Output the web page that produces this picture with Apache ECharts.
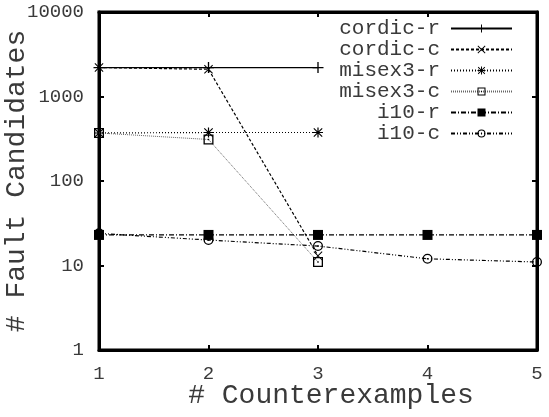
<!DOCTYPE html>
<html><head><meta charset="utf-8">
<script src="https://cdn.jsdelivr.net/npm/echarts@6/dist/echarts.min.js"></script>
<style>html,body{margin:0;padding:0;background:#fff}#c{width:549px;height:417px}</style>
</head><body><div id="c"></div>
<script>
const xValues = [1, 2, 3, 4, 5];
const yTicks = [1, 10, 100, 1000, 10000];
const seriesNames = ['cordic-r', 'cordic-c', 'misex3-r', 'misex3-c', 'i10-r', 'i10-c'];
const cordicR = [2200, 2200, 2200];
const cordicC = [2200, 2100, 13];
const misex3R = [370, 375, 375];
const misex3C = [370, 310, 11];
const i10R = [23, 23, 23, 23, 23];
const i10C = [24, 20, 17, 12, 11];
const values = [cordicR, cordicC, misex3R, misex3C, i10R, i10C];

const FONT = '"Liberation Mono", "DejaVu Sans Mono", monospace';
const TXT = '#3a3a3a';
const symPlus = 'path://M4.4,0H5.6V10H4.4ZM0,4.4H10V5.6H0Z';
const symCross = 'path://M0.8,0L10,9.2L9.2,10L0,0.8ZM9.2,0L10,0.8L0.8,10L0,9.2Z';
const symStar = 'path://M4.4,0H5.6V10H4.4ZM0,4.4H10V5.6H0ZM1.2,0.4L9.6,8.8L8.8,9.6L0.4,1.2ZM8.8,0.4L9.6,1.2L1.2,9.6L0.4,8.8Z';
const symBox = 'path://M0,0H10V10H0ZM1.3,1.3V8.7H8.7V1.3ZM4.3,4.3H5.7V5.7H4.3Z';
const symCircle = 'path://M5,0A5,5 0 1,1 5,10A5,5 0 1,1 5,0ZM5,1.3A3.7,3.7 0 1,0 5,8.7A3.7,3.7 0 1,0 5,1.3ZM4.3,4.3H5.7V5.7H4.3Z';

const styles = [
  {sym: symPlus, size: 11, dash: 'solid', color: '#000', w: 1.2},
  {sym: symCross, size: 9, dash: [3, 2], color: '#000', w: 1.2},
  {sym: symStar, size: 10, dash: [1, 2], color: '#000', w: 1.2},
  {sym: symBox, size: 10, dash: [1, 1], color: '#666', w: 1},
  {sym: 'rect', size: 10, dash: [5, 2, 1, 2], color: '#000', w: 1.2},
  {sym: symCircle, size: 10, dash: [4, 2, 1, 2, 1, 2], color: '#000', w: 1.2}
];

const series = seriesNames.map((name, i) => ({
  name: name,
  type: 'line',
  data: values[i].map((v, j) => [xValues[j], v]),
  symbol: styles[i].sym,
  symbolSize: styles[i].size,
  showAllSymbol: true,
  z: 2 + i,
  lineStyle: {color: styles[i].color, width: styles[i].w, type: styles[i].dash},
  itemStyle: {color: '#000'},
  animation: false
}));

const chart = echarts.init(document.getElementById('c'), null, {renderer: 'canvas'});
chart.setOption({
  animation: false,
  backgroundColor: '#fff',
  grid: {left: 99, right: 12, top: 12, bottom: 67, outerBoundsMode: 'none', containLabel: false,
    show: true, borderColor: '#000', borderWidth: 3, backgroundColor: 'transparent'},
  legend: {
    orient: 'vertical',
    right: 31,
    top: 13,
    align: 'right',
    itemWidth: 61,
    itemHeight: 10,
    itemGap: 0,
    data: seriesNames,
    textStyle: {fontFamily: FONT, fontSize: 21, lineHeight: 21, color: TXT, width: 110, align: 'right', padding: [0, 6, 0, 0]}
  },
  xAxis: [{
    type: 'value', min: 1, max: 5, interval: 1,
    name: '# Counterexamples', nameLocation: 'middle', nameGap: 32, nameMoveOverlap: false,
    nameTextStyle: {fontFamily: FONT, fontSize: 28, color: TXT, padding: [0, 0, 0, 26]},
    axisLine: {show: true, lineStyle: {color: '#000', width: 3}},
    axisTick: {show: true, inside: true, length: 5, lineStyle: {color: '#000', width: 2}},
    axisLabel: {fontFamily: FONT, fontSize: 19, color: TXT, margin: 14},
    splitLine: {show: false}
  }, {
    type: 'value', min: 1, max: 5, interval: 1, position: 'top',
    axisLine: {show: true, lineStyle: {color: '#000', width: 3}},
    axisTick: {show: true, inside: true, length: 5, lineStyle: {color: '#000', width: 2}},
    axisLabel: {show: false}, splitLine: {show: false}
  }],
  yAxis: [{
    type: 'log', logBase: 10, min: 1, max: 10000,
    name: '# Fault Candidates', nameLocation: 'middle', nameGap: 68, nameMoveOverlap: false,
    nameTextStyle: {fontFamily: FONT, fontSize: 28, color: TXT},
    axisLine: {show: true, lineStyle: {color: '#000', width: 3}},
    axisTick: {show: true, inside: true, length: 5, lineStyle: {color: '#000', width: 2}},
    axisLabel: {fontFamily: FONT, fontSize: 19, color: TXT, margin: 15,
      formatter: v => String(Math.round(v))},
    splitLine: {show: false}
  }, {
    type: 'log', logBase: 10, min: 1, max: 10000, position: 'right',
    axisLine: {show: true, lineStyle: {color: '#000', width: 3}},
    axisTick: {show: true, inside: true, length: 5, lineStyle: {color: '#000', width: 2}},
    axisLabel: {show: false}, splitLine: {show: false}
  }],
  series: series
});
</script></body></html>
